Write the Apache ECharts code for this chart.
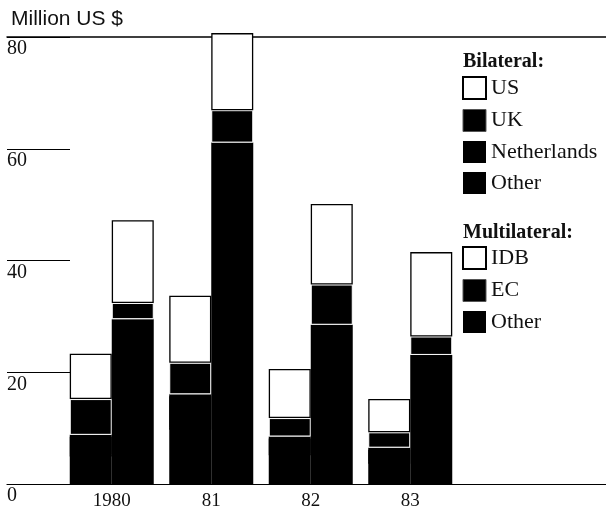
<!DOCTYPE html>
<html>
<head>
<meta charset="utf-8">
<script src="https://cdn.jsdelivr.net/npm/echarts@6/dist/echarts.min.js"></script>
<style>
  html, body { margin: 0; padding: 0; background: #fff; }
  #chart { width: 606px; height: 512px; }
</style>
</head>
<body>
<div id="chart"></div>
<script>
  // 年份
  const years = ['1980', '81', '82', '83']
  const yTicks = [0, 20, 40, 60, 80]
  // Bilateral（双边）
  const biUS = [8.1, 12.0, 8.8, 5.95]
  const biUK = [6.4, 5.65, 3.3, 2.75]
  const biNetherlands = [3.5, 6.0, 3.0, 2.5]
  const biOther = [5.3, 10.05, 5.5, 4.0]
  // Multilateral（多边）
  const mulIDB = [14.8, 13.8, 14.4, 15.1]
  const mulEC = [2.9, 5.8, 7.2, 3.3]
  const mulOther = [29.5, 61.1, 28.5, 23.1]

  const serif = 'Liberation Serif'
  const chartInstance = echarts.init(document.getElementById('chart'))

  const whiteSeg = { color: '#fff', borderColor: '#000', borderWidth: 1.3 }
  const blackBox = { color: '#000', borderColor: '#fff', borderWidth: 1 }
  const blackSeg = { color: '#000', borderWidth: 0 }
  // 黑色堆叠之间不要留缝（用阴影往下盖一像素）
  const blackSegTop = { color: '#000', borderWidth: 0, shadowColor: '#000', shadowBlur: 0, shadowOffsetY: 2 }

  function bar(name, stack, data, style) {
    return {
      name: name,
      type: 'bar',
      stack: stack,
      xAxisIndex: 2,
      yAxisIndex: 1,
      barWidth: 42,
      barGap: '0%',
      clip: false,
      itemStyle: style,
      emphasis: { disabled: true },
      data: data
    }
  }

  // 图例里的黑框（UK / EC）不要白边
  function darkItem(name) {
    return { name: name, itemStyle: { color: '#000', borderColor: '#555', borderWidth: 1 } }
  }
  function plainItem(name) {
    return { name: name, itemStyle: { color: '#000', borderWidth: 0, shadowOffsetY: 0 } }
  }

  const legendText = { fontFamily: serif, fontSize: 22, color: '#111' }

  const option = {
    backgroundColor: '#fff',
    animation: false,
    title: [
      {
        text: 'Million US $', left: 11, top: 9, padding: 0,
        textStyle: { fontFamily: 'Liberation Sans', fontSize: 21, fontWeight: 'normal', color: '#111' }
      },
      {
        text: 'Bilateral:', left: 463, top: 52, padding: 0,
        textStyle: { fontFamily: serif, fontSize: 20, fontWeight: 'bold', color: '#111' }
      },
      {
        text: 'Multilateral:', left: 463, top: 223, padding: 0,
        textStyle: { fontFamily: serif, fontSize: 20, fontWeight: 'bold', color: '#111' }
      }
    ],
    legend: [
      {
        orient: 'vertical', left: 462, top: 76, padding: 0,
        itemWidth: 23, itemHeight: 22, itemGap: 9,
        icon: 'rect', selectedMode: false,
        data: ['US', darkItem('UK'), plainItem('Netherlands'), plainItem('Other')],
        textStyle: legendText
      },
      {
        orient: 'vertical', left: 462, top: 246, padding: 0,
        itemWidth: 23, itemHeight: 22, itemGap: 9,
        icon: 'rect', selectedMode: false,
        data: ['IDB', darkItem('EC'), plainItem('Other')],
        textStyle: legendText
      }
    ],
    grid: [
      // 外框：刻度线、顶线和底线
      { left: 7, right: 0, top: 37, bottom: 28 },
      // 柱子
      { left: 62, right: 146, top: 37, bottom: 28 }
    ],
    xAxis: [
      {
        gridIndex: 0, type: 'value', min: 0, max: 1,
        axisLine: { show: true, onZero: false, lineStyle: { color: '#000', width: 1.2 } },
        axisTick: { show: false }, axisLabel: { show: false }, splitLine: { show: false }
      },
      {
        gridIndex: 0, type: 'value', min: 0, max: 1, position: 'top',
        axisLine: { show: true, onZero: false, lineStyle: { color: '#000', width: 1.5 } },
        axisTick: { show: false }, axisLabel: { show: false }, splitLine: { show: false }
      },
      {
        gridIndex: 1, type: 'category', data: years,
        axisLine: { show: false }, axisTick: { show: false },
        axisLabel: { fontFamily: serif, fontSize: 19, color: '#111', margin: 8 }
      }
    ],
    yAxis: [
      {
        gridIndex: 0, type: 'value', min: 0, max: 80, interval: 20,
        axisLine: { show: false },
        axisTick: { show: true, inside: true, length: 63, lineStyle: { color: '#000', width: 1.2 } },
        axisLabel: {
          inside: true, margin: 0, verticalAlign: 'top', padding: [2, 0, 0, 0],
          fontFamily: serif, fontSize: 20, color: '#111',
          formatter: function (v) { return yTicks.indexOf(v) >= 0 ? String(v) : '' }
        },
        splitLine: { show: false }
      },
      {
        gridIndex: 1, type: 'value', min: 0, max: 80, show: false
      }
    ],
    series: [
      bar('Other', 'bi', biOther, blackSeg),
      bar('Netherlands', 'bi', biNetherlands, blackSegTop),
      bar('UK', 'bi', biUK, blackBox),
      bar('US', 'bi', biUS, whiteSeg),
      bar('Other', 'mul', mulOther, blackSeg),
      bar('EC', 'mul', mulEC, blackBox),
      bar('IDB', 'mul', mulIDB, whiteSeg)
    ]
  }
  chartInstance.setOption(option)
</script>
</body>
</html>
